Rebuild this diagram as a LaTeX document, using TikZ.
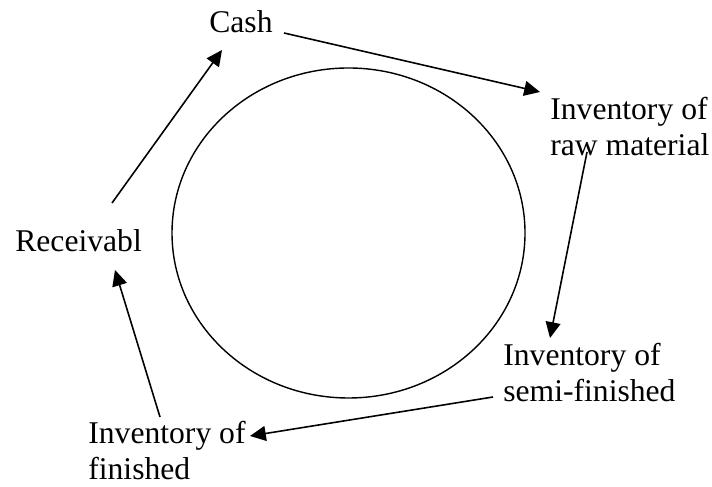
\documentclass[tikz,border=0pt]{standalone}
\usepackage{fontspec}
\setmainfont{Liberation Serif}
\usetikzlibrary{shapes.geometric,arrows.meta,positioning,calc}

\begin{document}
\begin{tikzpicture}[
  >={Triangle[length=9pt, width=8.5pt]},
  lbl/.style={anchor=base west, inner sep=0pt, align=left,
              font=\fontsize{18}{21}\selectfont},
  flow/.style={->, line width=0.9pt, black}
]
\useasboundingbox (0,0) rectangle (14.24,9.74);
\node[draw, ellipse, line width=0.8pt, minimum width=7.06cm, minimum height=6.6cm] (loop) at (6.97,5.08) {};
\node[lbl] (cash) at (4.18,9.08) {Cash};
\node[lbl] (raw)  at (11.00,6.62) {Inventory of\\raw material};
\node[lbl] (semi) at (10.06,1.70) {Inventory of\\semi-finished};
\node[lbl] (fin)  at (1.76,0.14)  {Inventory of\\finished};
\node[lbl] (recv) at (0.30,4.70)  {Receivabl};
\draw[flow] ([xshift=0.22cm]cash.base east) -- ([shift={(-0.2,1.28)}]raw.base west);
\draw[flow] ([shift={(0.74,0.08)}]raw.base west) -- ([shift={(0.94,1.28)}]semi.base west);
\draw[flow] ([shift={(-0.2,0.10)}]semi.base west) -- ([shift={(3.24,0.88)}]fin.base west);
\draw[flow] ([shift={(1.44,1.26)}]fin.base west) -- ([shift={(2.0,-0.36)}]recv.base west);
\draw[flow] ([shift={(1.94,0.98)}]recv.base west) -- ([shift={(0.26,-0.34)}]cash.base west);
\end{tikzpicture}
\end{document}
